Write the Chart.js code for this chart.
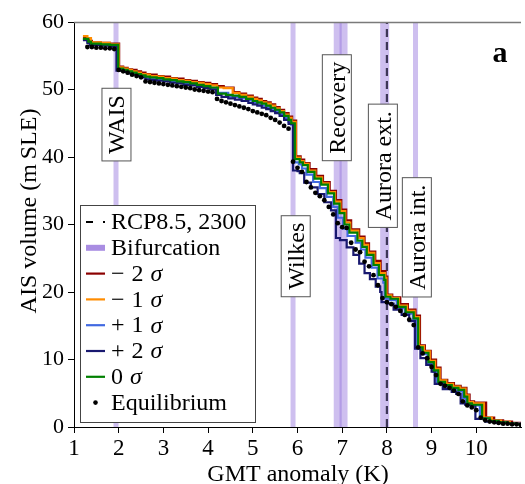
<!DOCTYPE html>
<html><head><meta charset="utf-8">
<script src="https://cdn.jsdelivr.net/npm/chart.js@4.4.1/dist/chart.umd.min.js"></script>
<style>html,body{margin:0;padding:0;background:#fff}</style>
</head><body>
<canvas id="c" width="525" height="484" style="display:block"></canvas>
<script>
// ---------- DATA ----------
const xTickValues = [1,2,3,4,5,6,7,8,9,10];
const yTickValues = [0,10,20,30,40,50,60];

// bifurcation GMT values (K)
const bifurcationGMT = [1.94, 5.90, 6.90, 7.03, 7.95, 8.64];
const rcpGMT = 8.0; // RCP8.5, 2300

// labelled bifurcations
const bifLabelText = ["WAIS", "Wilkes", "Recovery", "Aurora ext.", "Aurora int."];
const bifLabelGMT  = [1.95, 5.96, 6.88, 7.91, 8.67];
const bifLabelVol  = [44.8, 25.3, 47.3, 38.7, 28.1];

// equilibrium
const eqGMT = [1.3,1.4,1.5,1.6,1.7,1.8,1.9,2.0,2.1,2.2,2.3,2.4,2.5,2.6,2.7,2.8,2.9,3.0,3.1,3.2,3.3,3.4,3.5,3.6,3.7,3.8,3.9,4.0,4.1,4.2,4.3,4.4,4.5,4.6,4.7,4.8,4.9,5.0,5.1,5.2,5.3,5.4,5.5,5.6,5.7,5.8,5.9,6.0,6.1,6.2,6.3,6.4,6.5,6.6,6.7,6.8,6.9,7.0,7.1,7.2,7.3,7.4,7.5,7.6,7.7,7.8,7.9,8.0,8.1,8.2,8.3,8.4,8.5,8.6,8.7,8.8,8.9,9.0,9.1,9.2,9.3,9.4,9.5,9.6,9.7,9.8,9.9,10.0,10.1,10.2,10.3,10.4,10.5,10.6,10.7,10.8,10.9,11.0];
const eqVolume = [56.3,56.3,56.2,56.2,56.1,56.1,56.0,52.9,52.7,52.5,52.2,52.0,51.8,51.2,51.1,51.0,50.9,50.8,50.7,50.6,50.5,50.4,50.3,50.2,50.0,49.9,49.8,49.7,49.6,48.6,48.3,48.1,47.9,47.7,47.5,47.3,47.1,46.8,46.6,46.4,46.2,45.8,45.5,45.1,44.6,44.2,39.3,38.4,37.8,36.3,35.5,34.7,34.2,33.6,32.6,31.5,30.2,29.6,29.5,27.3,26.3,25.9,24.5,23.8,22.5,21.0,19.1,18.5,18.2,17.8,17.2,16.6,15.9,15.1,11.8,10.9,10.2,8.9,7.7,6.4,6.1,5.8,5.4,4.9,3.8,3.2,2.9,2.5,1.4,1.0,0.8,0.7,0.6,0.5,0.5,0.4,0.4,0.3];

// transient runs: [GMT, volume] step points
const sigmaMinus2 = [[1.2,57.6],[1.33,57.2],[1.4,57.0],[1.6,56.9],[1.8,56.8],[2.01,53.4],[2.1,53.2],[2.2,53.0],[2.3,52.9],[2.4,52.7],[2.5,52.5],[2.6,52.3],[2.7,52.2],[2.85,52.0],[3.0,51.9],[3.15,51.7],[3.3,51.6],[3.45,51.4],[3.6,51.3],[3.75,51.1],[3.9,51.0],[4.05,50.8],[4.2,50.5],[4.35,50.3],[4.57,49.6],[4.7,49.4],[4.85,49.1],[5.0,48.8],[5.1,48.6],[5.2,48.3],[5.3,48.1],[5.4,47.8],[5.5,47.4],[5.6,47.0],[5.7,46.5],[5.8,46.0],[5.88,45.4],[5.97,40.1],[6.07,39.6],[6.15,39.1],[6.27,38.2],[6.42,37.2],[6.57,36.3],[6.72,35.0],[6.86,33.6],[6.98,32.2],[7.09,30.6],[7.2,29.3],[7.38,28.2],[7.5,27.2],[7.6,26.0],[7.74,24.6],[7.86,23.1],[7.97,22.3],[8.01,19.6],[8.12,19.2],[8.3,18.2],[8.47,17.4],[8.64,16.5],[8.74,12.1],[8.85,11.3],[8.98,10.0],[9.1,8.8],[9.2,7.0],[9.35,6.5],[9.5,6.1],[9.65,5.8],[9.78,4.8],[9.85,3.8],[9.95,3.6],[10.22,1.4],[10.4,1.0],[10.6,0.8],[10.8,0.6],[11.0,0.4]];
const sigmaMinus1 = [[1.2,57.9],[1.3,57.6],[1.38,57.0],[1.6,56.9],[1.8,56.7],[2.0,53.3],[2.1,53.1],[2.2,52.9],[2.3,52.7],[2.4,52.5],[2.5,52.3],[2.6,52.2],[2.7,52.0],[2.85,51.9],[3.0,51.7],[3.15,51.6],[3.3,51.4],[3.45,51.3],[3.6,51.1],[3.75,51.0],[3.9,50.8],[4.05,50.6],[4.2,50.3],[4.35,50.2],[4.55,49.5],[4.7,49.2],[4.85,48.9],[5.0,48.6],[5.1,48.4],[5.2,48.1],[5.3,47.9],[5.4,47.6],[5.5,47.2],[5.6,46.8],[5.7,46.3],[5.8,45.8],[5.87,45.2],[5.96,39.9],[6.06,39.4],[6.14,39.0],[6.25,38.0],[6.4,37.0],[6.55,36.1],[6.7,34.8],[6.84,33.4],[6.96,32.0],[7.07,30.3],[7.18,29.1],[7.36,28.0],[7.48,27.0],[7.58,25.8],[7.72,24.3],[7.84,22.8],[7.96,22.1],[7.99,19.5],[8.1,19.1],[8.27,18.0],[8.45,17.2],[8.62,16.3],[8.72,12.0],[8.83,11.2],[8.96,9.8],[9.08,8.6],[9.18,6.9],[9.33,6.4],[9.48,6.0],[9.63,5.7],[9.76,4.7],[9.83,3.7],[9.93,3.5],[10.17,1.4],[10.35,0.95],[10.55,0.75],[10.75,0.55],[11.0,0.35]];
const sigmaPlus1 = [[1.2,57.4],[1.3,57.0],[1.36,56.7],[1.6,56.6],[1.8,56.5],[1.97,53.0],[2.1,52.8],[2.2,52.6],[2.3,52.4],[2.4,52.2],[2.5,52.0],[2.6,51.8],[2.7,51.6],[2.85,51.5],[3.0,51.4],[3.15,51.2],[3.3,51.1],[3.45,50.9],[3.6,50.8],[3.75,50.6],[3.9,50.4],[4.05,50.2],[4.2,49.5],[4.45,49.0],[4.55,48.9],[4.7,48.7],[4.85,48.4],[5.0,48.1],[5.1,47.9],[5.2,47.6],[5.3,47.4],[5.4,47.1],[5.5,46.8],[5.6,46.4],[5.7,45.8],[5.8,45.2],[5.86,44.8],[5.93,39.2],[6.03,38.9],[6.1,38.3],[6.2,37.4],[6.35,36.3],[6.5,35.4],[6.65,34.1],[6.8,32.6],[6.9,31.0],[7.02,29.4],[7.12,28.3],[7.3,27.3],[7.42,26.3],[7.52,25.1],[7.66,23.6],[7.79,22.0],[7.92,21.4],[7.95,19.0],[8.06,18.8],[8.22,17.6],[8.4,16.8],[8.58,15.9],[8.68,11.6],[8.78,10.8],[8.91,9.4],[9.03,8.2],[9.12,6.5],[9.28,6.0],[9.43,5.6],[9.58,5.3],[9.7,4.3],[9.77,3.4],[9.87,3.2],[10.08,1.3],[10.3,0.85],[10.5,0.65],[10.7,0.5],[11.0,0.3]];
const sigmaPlus2 = [[1.2,57.3],[1.3,56.9],[1.35,56.6],[1.6,56.5],[1.8,56.4],[1.95,52.8],[2.1,52.6],[2.2,52.4],[2.3,52.2],[2.4,52.0],[2.5,51.8],[2.6,51.5],[2.7,51.4],[2.85,51.3],[3.0,51.2],[3.15,51.0],[3.3,50.9],[3.45,50.7],[3.6,50.6],[3.75,50.4],[3.9,50.2],[4.05,50.0],[4.18,49.2],[4.3,48.9],[4.45,48.7],[4.6,48.5],[4.75,48.3],[4.9,48.0],[5.0,47.8],[5.1,47.6],[5.2,47.3],[5.3,47.1],[5.4,46.8],[5.5,46.5],[5.6,46.1],[5.7,45.5],[5.8,44.9],[5.9,38.0],[6.0,37.9],[6.05,37.6],[6.15,36.2],[6.3,35.5],[6.45,34.5],[6.6,33.3],[6.75,32.1],[6.86,28.0],[6.95,27.7],[7.1,26.6],[7.25,25.5],[7.38,24.2],[7.5,22.8],[7.62,21.9],[7.75,20.8],[7.85,20.0],[7.88,18.5],[8.0,18.3],[8.15,17.4],[8.33,16.6],[8.5,15.7],[8.63,11.6],[8.75,10.2],[8.88,9.2],[9.0,8.2],[9.07,6.4],[9.25,5.6],[9.45,5.2],[9.55,4.9],[9.65,3.5],[9.75,3.3],[9.9,3.2],[9.98,1.2],[10.2,0.8],[10.4,0.6],[10.7,0.45],[11.0,0.3]];
const sigmaZero = [[1.2,57.5],[1.32,57.1],[1.38,56.8],[1.6,56.7],[1.8,56.6],[1.99,53.1],[2.1,52.9],[2.2,52.7],[2.3,52.5],[2.4,52.3],[2.5,52.1],[2.6,51.9],[2.7,51.8],[2.85,51.7],[3.0,51.5],[3.15,51.4],[3.3,51.2],[3.45,51.1],[3.6,50.9],[3.75,50.7],[3.9,50.5],[4.05,50.3],[4.22,49.4],[4.4,49.2],[4.55,49.1],[4.7,48.9],[4.85,48.6],[5.0,48.3],[5.1,48.1],[5.2,47.9],[5.3,47.6],[5.4,47.3],[5.5,47.0],[5.6,46.6],[5.7,46.1],[5.8,45.5],[5.86,45.0],[5.94,39.7],[6.05,39.2],[6.12,38.8],[6.23,37.8],[6.38,36.8],[6.53,35.9],[6.68,34.6],[6.82,33.1],[6.94,31.7],[7.05,30.0],[7.16,28.8],[7.34,27.6],[7.45,26.7],[7.55,25.5],[7.7,24.0],[7.82,22.5],[7.94,21.8],[7.97,19.3],[8.08,19.0],[8.25,17.8],[8.42,17.0],[8.6,16.1],[8.7,11.8],[8.8,11.0],[8.93,9.6],[9.05,8.4],[9.15,6.7],[9.3,6.2],[9.45,5.8],[9.6,5.5],[9.73,4.5],[9.8,3.5],[9.9,3.3],[10.13,1.3],[10.3,0.9],[10.5,0.7],[10.7,0.5],[10.9,0.4],[11.0,0.3]];

// ---------- STYLE ----------
const SERIF = '"Liberation Serif", "DejaVu Serif", serif';
const bandWidths = [5, 5, 8, 8, 9, 5];
const bandColor = 'rgba(147,112,219,0.45)';
const runColors = {m2:'#8b0000', m1:'#ff8c00', p1:'#4169e1', p2:'#191970', z:'#008000'};

const toXY = arr => arr.map(p => ({x:p[0], y:p[1]}));
const datasets = [];
datasets.push({label:'Equilibrium', data: eqGMT.map((g,i)=>({x:g, y:eqVolume[i]})), showLine:false,
  pointRadius:2.4, pointBackgroundColor:'#000', pointBorderWidth:0, order:0});
const runs = [
  ['0σ', sigmaZero, runColors.z, 1],
  ['+2σ', sigmaPlus2, runColors.p2, 2],
  ['+1σ', sigmaPlus1, runColors.p1, 3],
  ['-1σ', sigmaMinus1, runColors.m1, 4],
  ['-2σ', sigmaMinus2, runColors.m2, 5],
];
runs.forEach(([lab, arr, col, ord]) => datasets.push({label:lab, data:toXY(arr), showLine:true, stepped:true,
  borderColor:col, borderWidth:2.2, pointRadius:0, order:ord}));
datasets.push({label:'RCP8.5, 2300', data:[{x:rcpGMT,y:0},{x:rcpGMT,y:60}], showLine:true, borderDash:[8,5],
  borderColor:'rgba(35,30,60,0.85)', borderWidth:2.2, pointRadius:0, order:6});
bifurcationGMT.forEach((b,i)=>datasets.push({label:'Bifurcation', data:[{x:b,y:0},{x:b,y:60}], showLine:true,
  borderColor:bandColor, borderWidth:bandWidths[i], borderCapStyle:'butt', pointRadius:0, order:7}));

const legendItems = [
  {type:'dash', text:[['RCP8.5, 2300',false]]},
  {type:'band', text:[['Bifurcation',false]]},
  {type:'line', color:runColors.m2, text:[['\u2212',false],['2',false],['\u03c3',true]]},
  {type:'line', color:runColors.m1, text:[['\u2212',false],['1',false],['\u03c3',true]]},
  {type:'line', color:runColors.p1, text:[['+',false],['1',false],['\u03c3',true]]},
  {type:'line', color:runColors.p2, text:[['+',false],['2',false],['\u03c3',true]]},
  {type:'line', color:runColors.z, text:[['0',false],['\u03c3',true]]},
  {type:'dot', text:[['Equilibrium',false]]},
];

const overlay = {
  id:'overlay',
  afterDatasetsDraw(chart){
    const {ctx, chartArea:a, scales:{x, y}} = chart;
    ctx.save();
    ctx.strokeStyle = '#7a7a7a'; ctx.lineWidth = 1.3;
    ctx.beginPath(); ctx.moveTo(a.left, a.top + 0.5); ctx.lineTo(a.right, a.top + 0.5); ctx.stroke();
    ctx.font = '24px ' + SERIF;
    bifLabelText.forEach((t, i) => {
      const cx = x.getPixelForValue(bifLabelGMT[i]);
      const cy = y.getPixelForValue(bifLabelVol[i]);
      ctx.save(); ctx.translate(cx, cy); ctx.rotate(-Math.PI/2);
      const w = ctx.measureText(t).width; const bw = w + 14, bh = 29;
      ctx.fillStyle = '#fff'; ctx.fillRect(-bw/2, -bh/2, bw, bh);
      ctx.strokeStyle = '#555'; ctx.lineWidth = 1; ctx.strokeRect(-bw/2, -bh/2, bw, bh);
      ctx.fillStyle = '#000'; ctx.textAlign = 'center'; ctx.textBaseline = 'middle';
      ctx.fillText(t, 0, 1.5);
      ctx.restore();
    });
    const L = a.left + 6, T = 205, W = 175, H = 217;
    ctx.fillStyle = '#fff'; ctx.fillRect(L, T, W, H);
    ctx.strokeStyle = '#444'; ctx.lineWidth = 1; ctx.strokeRect(L + 0.5, T + 0.5, W, H);
    legendItems.forEach((it, i) => {
      const cy = T + 17 + i * 25.8;
      const hx0 = L + 6, hx1 = L + 25;
      ctx.save();
      if (it.type === 'dash') {
        ctx.strokeStyle = '#000'; ctx.lineWidth = 2.2; ctx.setLineDash([7, 10]);
        ctx.beginPath(); ctx.moveTo(hx0, cy); ctx.lineTo(hx1, cy); ctx.stroke();
      } else if (it.type === 'band') {
        ctx.strokeStyle = 'rgba(147,112,219,0.8)'; ctx.lineWidth = 6;
        ctx.beginPath(); ctx.moveTo(hx0, cy); ctx.lineTo(hx1, cy); ctx.stroke();
      } else if (it.type === 'line') {
        ctx.strokeStyle = it.color; ctx.lineWidth = 2.2;
        ctx.beginPath(); ctx.moveTo(hx0, cy); ctx.lineTo(hx1, cy); ctx.stroke();
      } else {
        ctx.fillStyle = '#000'; ctx.beginPath(); ctx.arc((hx0 + hx1)/2, cy, 2.3, 0, Math.PI*2); ctx.fill();
      }
      ctx.restore();
      let tx = L + 31;
      ctx.fillStyle = '#000'; ctx.textBaseline = 'middle'; ctx.textAlign = 'left';
      it.text.forEach(([s, ital]) => {
        ctx.font = (ital ? 'italic ' : '') + '24px ' + SERIF;
        ctx.fillText(s, tx, cy + 1);
        tx += ctx.measureText(s).width + (it.text.length > 1 ? 7 : 0);
      });
    });
    ctx.fillStyle = '#000'; ctx.font = '24px ' + SERIF;
    ctx.textAlign = 'center'; ctx.textBaseline = 'alphabetic';
    ctx.fillText('GMT anomaly (K)', 298, 481);
    ctx.save(); ctx.translate(36, 211); ctx.rotate(-Math.PI/2);
    ctx.fillText('AIS volume (m\u2009SLE)', 0, 0); ctx.restore();
    ctx.font = 'bold 30px ' + SERIF; ctx.textAlign = 'center'; ctx.textBaseline = 'alphabetic';
    ctx.fillText('a', 500, 62);
    ctx.restore();
  }
};

new Chart(document.getElementById('c'), {
  type:'scatter',
  data:{datasets},
  options:{
    responsive:false, animation:false, devicePixelRatio:1,
    layout:{padding:{top:22, right:0, left:0, bottom:0}},
    plugins:{legend:{display:false}, tooltip:{enabled:false}},
    scales:{
      x:{type:'linear', min:1, max:11,
        afterBuildTicks: s => { s.ticks = xTickValues.map(v => ({value:v})); },
        afterFit: s => { s.height = 57; },
        grid:{drawOnChartArea:false, drawTicks:true, tickLength:6, color:'#000'},
        border:{display:true, color:'#000', width:1},
        ticks:{font:{family:SERIF, size:23}, color:'#000', padding:2, maxRotation:0, autoSkip:false}},
      y:{type:'linear', min:0, max:60,
        afterBuildTicks: s => { s.ticks = yTickValues.map(v => ({value:v})); },
        afterFit: s => { s.width = 74; },
        grid:{drawOnChartArea:false, drawTicks:true, tickLength:6, color:'#000'},
        border:{display:true, color:'#000', width:1},
        ticks:{font:{family:SERIF, size:22}, color:'#000', padding:4}}
    }
  },
  plugins:[overlay]
});
</script>
</body></html>
